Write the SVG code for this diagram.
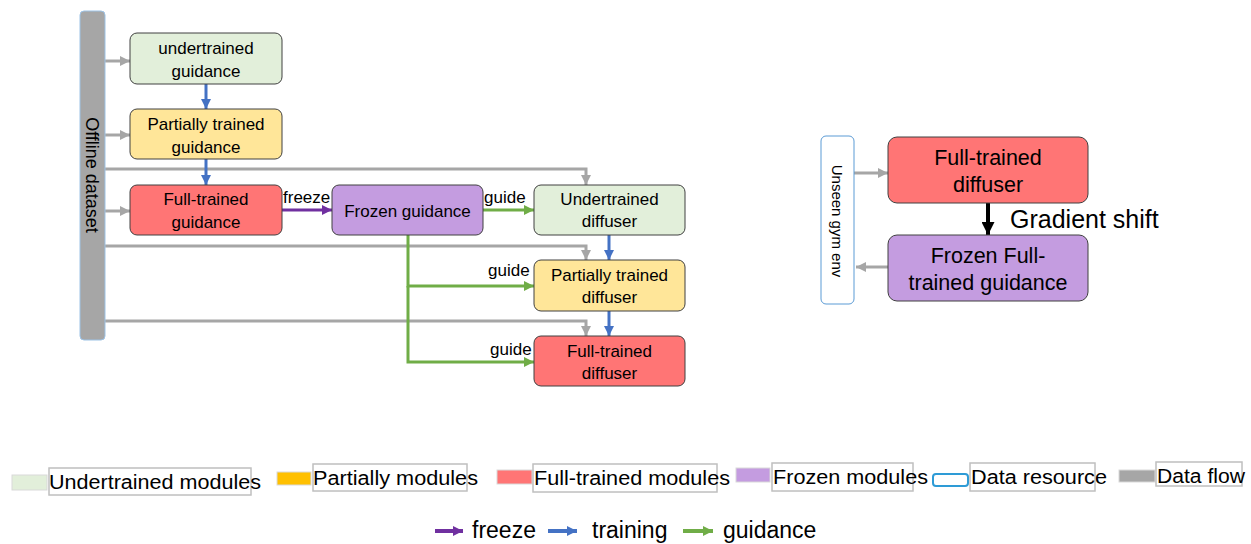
<svg xmlns="http://www.w3.org/2000/svg" width="1251" height="544" viewBox="0 0 1251 544">
<style>
.node{stroke:#404040;stroke-width:1}
.g{fill:#e2efda}.y{fill:#ffe699}.r{fill:#ff7575}.p{fill:#c49ce0}
.t{font-family:"Liberation Sans",Arial,sans-serif;font-size:17px;fill:#000;text-anchor:middle}
.tb{font-family:"Liberation Sans",Arial,sans-serif;font-size:21.5px;fill:#000;text-anchor:middle}
.lbl{font-family:"Liberation Sans",Arial,sans-serif;font-size:17px;fill:#000}
.lg{font-family:"Liberation Sans",Arial,sans-serif;font-size:20px;fill:#000}
.lg2{font-family:"Liberation Sans",Arial,sans-serif;font-size:23px;fill:#000}
.gray{stroke:#a6a6a6;stroke-width:3;fill:none}
.blue{stroke:#4472c4;stroke-width:3;fill:none}
.pur{stroke:#7030a0;stroke-width:3;fill:none}
.grn{stroke:#70ad47;stroke-width:3;fill:none}
.box{fill:#fff;stroke:#bfbfbf;stroke-width:1.5}
.sw{stroke:#d9d9d9;stroke-width:1}
</style>
<defs>
<marker id="ag" viewBox="0 0 10 10" refX="10" refY="5" markerWidth="12" markerHeight="10" markerUnits="userSpaceOnUse" orient="auto"><path d="M0,0L10,5L0,10z" fill="#a6a6a6"/></marker>
<marker id="ab" viewBox="0 0 10 10" refX="10" refY="5" markerWidth="11" markerHeight="10" markerUnits="userSpaceOnUse" orient="auto"><path d="M0,0L10,5L0,10z" fill="#4472c4"/></marker>
<marker id="ap" viewBox="0 0 10 10" refX="10" refY="5" markerWidth="11" markerHeight="10" markerUnits="userSpaceOnUse" orient="auto"><path d="M0,0L10,5L0,10z" fill="#7030a0"/></marker>
<marker id="an" viewBox="0 0 10 10" refX="10" refY="5" markerWidth="11" markerHeight="10" markerUnits="userSpaceOnUse" orient="auto"><path d="M0,0L10,5L0,10z" fill="#70ad47"/></marker>
<marker id="ak" viewBox="0 0 10 10" refX="10" refY="5" markerWidth="15" markerHeight="13" markerUnits="userSpaceOnUse" orient="auto"><path d="M0,0L10,5L0,10z" fill="#000"/></marker>
</defs>
<rect width="1251" height="544" fill="#fff"/>

<g id="connectors">
<path class="gray" d="M105,61H130" marker-end="url(#ag)"/>
<path class="gray" d="M105,135H130" marker-end="url(#ag)"/>
<path class="gray" d="M105,211H130" marker-end="url(#ag)"/>
<path class="gray" d="M105,169H586V185" marker-end="url(#ag)"/>
<path class="gray" d="M105,246H586V260" marker-end="url(#ag)"/>
<path class="gray" d="M105,321H586V336" marker-end="url(#ag)"/>
<path class="blue" d="M206,84V109" marker-end="url(#ab)"/>
<path class="blue" d="M206,159V185" marker-end="url(#ab)"/>
<path class="blue" d="M609,235V260" marker-end="url(#ab)"/>
<path class="blue" d="M609,311V336" marker-end="url(#ab)"/>
<path class="pur" d="M282,210H332" marker-end="url(#ap)"/>
<path class="grn" d="M483,210H534" marker-end="url(#an)"/>
<path class="grn" d="M408,235V286H534" marker-end="url(#an)"/>
<path class="grn" d="M408,286V362H534" marker-end="url(#an)"/>
<path class="gray" d="M854,173H888" marker-end="url(#ag)"/>
<path class="gray" d="M888,267H856" marker-end="url(#ag)"/>
<path d="M988,203V235" stroke="#000" stroke-width="4" fill="none" marker-end="url(#ak)"/>
<text class="lbl" x="283" y="203">freeze</text>
<text class="lbl" x="484" y="203">guide</text>
<text class="lbl" x="488" y="276">guide</text>
<text class="lbl" x="490" y="355">guide</text>
<text x="1010" y="228" font-family="Liberation Sans, Arial, sans-serif" font-size="25" fill="#000">Gradient shift</text>
</g>

<g id="offline-dataset">
<rect x="80" y="11" width="25" height="329" rx="4" fill="#a6a6a6" stroke="#9dc3e6" stroke-width="1"/>
<text class="t" font-size="18" transform="translate(86,175) rotate(90)" style="font-size:18px">Offline dataset</text>
</g>
<g id="undertrained-guidance">
<rect class="node g" x="130" y="33" width="152" height="51" rx="7"/>
<text class="t" x="206" y="54">undertrained</text><text class="t" x="206" y="77">guidance</text>
</g>
<g id="partially-trained-guidance">
<rect class="node y" x="130" y="109" width="152" height="50" rx="7"/>
<text class="t" x="206" y="130">Partially trained</text><text class="t" x="206" y="153">guidance</text>
</g>
<g id="full-trained-guidance">
<rect class="node r" x="130" y="185" width="152" height="50" rx="7"/>
<text class="t" x="206" y="205">Full-trained</text><text class="t" x="206" y="228">guidance</text>
</g>
<g id="frozen-guidance">
<rect class="node p" x="332" y="185" width="151" height="50" rx="7"/>
<text class="t" x="407.5" y="217">Frozen guidance</text>
</g>
<g id="undertrained-diffuser">
<rect class="node g" x="534" y="185" width="151" height="50" rx="7"/>
<text class="t" x="609.5" y="205">Undertrained</text><text class="t" x="609.5" y="227">diffuser</text>
</g>
<g id="partially-trained-diffuser">
<rect class="node y" x="534" y="260" width="151" height="51" rx="7"/>
<text class="t" x="609.5" y="281">Partially trained</text><text class="t" x="609.5" y="303">diffuser</text>
</g>
<g id="full-trained-diffuser">
<rect class="node r" x="534" y="336" width="151" height="50" rx="7"/>
<text class="t" x="609.5" y="357">Full-trained</text><text class="t" x="609.5" y="379">diffuser</text>
</g>

<g id="unseen-gym-env">
<rect x="821" y="136" width="33" height="168" rx="5" fill="#fff" stroke="#5b9bd5" stroke-width="1"/>
<text transform="translate(832,221) rotate(90)" text-anchor="middle" font-family="Liberation Sans, Arial, sans-serif" font-size="15" fill="#000">Unseen gym env</text>
</g>
<g id="full-trained-diffuser-2">
<rect class="node r" x="888" y="137" width="200" height="66" rx="9"/>
<text class="tb" x="988" y="165">Full-trained</text><text class="tb" x="988" y="192">diffuser</text>
</g>
<g id="frozen-full-trained-guidance">
<rect class="node p" x="888" y="235" width="200" height="66" rx="9"/>
<text class="tb" x="988" y="263">Frozen Full-</text><text class="tb" x="988" y="290">trained guidance</text>
</g>

<g id="legend">
<rect class="sw" x="12" y="475" width="35" height="15" fill="#e2efda"/>
<rect class="box" x="49" y="468" width="202" height="27"/>
<text class="lg" x="49" y="489" textLength="212" lengthAdjust="spacingAndGlyphs">Undertrained modules</text>
<rect class="sw" x="277" y="472" width="34" height="13" fill="#ffc000"/>
<rect class="box" x="313" y="464" width="154" height="27"/>
<text class="lg" x="313" y="485" textLength="165" lengthAdjust="spacingAndGlyphs">Partially modules</text>
<rect class="sw" x="497" y="470" width="35" height="14" fill="#ff7575"/>
<rect class="box" x="533" y="464" width="184" height="28"/>
<text class="lg" x="534" y="485" textLength="196" lengthAdjust="spacingAndGlyphs">Full-trained modules</text>
<rect class="sw" x="736" y="468" width="34" height="14" fill="#c49ce0"/>
<rect class="box" x="772" y="463" width="141" height="28"/>
<text class="lg" x="773" y="484" textLength="155" lengthAdjust="spacingAndGlyphs">Frozen modules</text>
<rect x="933" y="474" width="35" height="12" rx="3" fill="#fff" stroke="#2e9bd6" stroke-width="2"/>
<rect class="box" x="970" y="463" width="125" height="28"/>
<text class="lg" x="971" y="484" textLength="136" lengthAdjust="spacingAndGlyphs">Data resource</text>
<rect class="sw" x="1119" y="470" width="36" height="12" fill="#a6a6a6"/>
<rect class="box" x="1156" y="462" width="86" height="24"/>
<text class="lg" x="1157" y="483" textLength="88" lengthAdjust="spacingAndGlyphs">Data flow</text>

<path d="M435,531H463" stroke="#7030a0" stroke-width="4" marker-end="url(#ap)"/>
<text class="lg2" x="472" y="538">freeze</text>
<path d="M548,531H577" stroke="#4472c4" stroke-width="4" marker-end="url(#ab)"/>
<text class="lg2" x="592" y="538">training</text>
<path d="M683,531H713" stroke="#70ad47" stroke-width="4" marker-end="url(#an)"/>
<text class="lg2" x="723" y="538">guidance</text>
</g>
</svg>
